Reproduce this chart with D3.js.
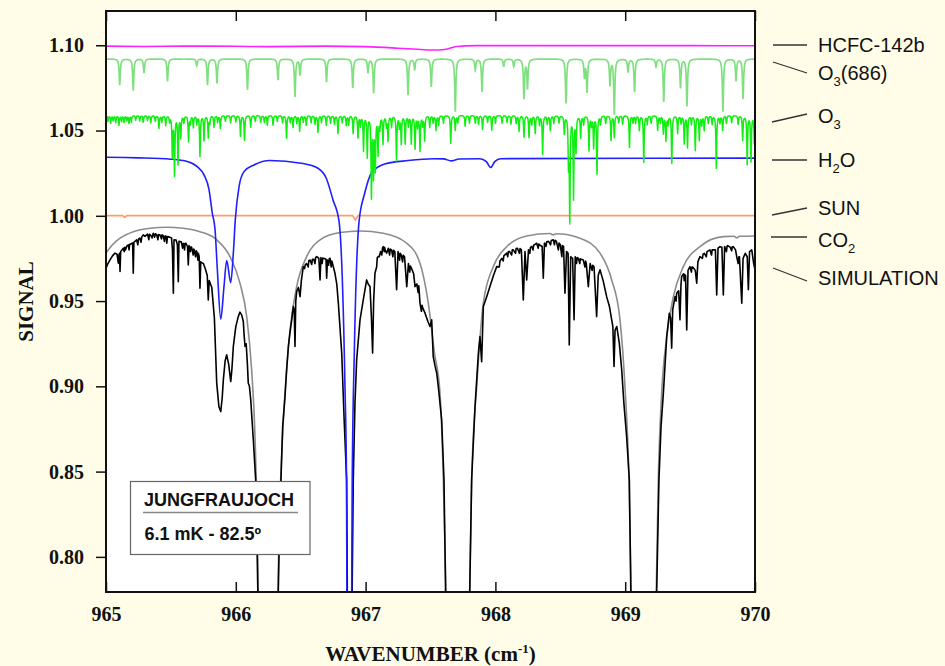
<!DOCTYPE html>
<html>
<head>
<meta charset="utf-8">
<script src="https://cdn.jsdelivr.net/npm/d3@7"></script>
<style>
  html, body { margin: 0; padding: 0; background: #FFFDE8; }
  svg { display: block; }
</style>
</head>
<body>
<svg id="chart" width="945" height="666"></svg>
<script>
// ---- axis ticks ----
const xTicks = [965, 966, 967, 968, 969, 970];
const yTicks = [0.80, 0.85, 0.90, 0.95, 1.00, 1.05, 1.10];

// ---- HCFC-142b transmission (wavenumber, signal) ----
const hcfc = [
  [965.000, 1.0995], [965.300, 1.0993], [965.600, 1.0995], [966.000, 1.0994],
  [966.250, 1.0992], [966.700, 1.0995], [967.000, 1.0992], [967.250, 1.0983],
  [967.450, 1.0974], [967.560, 1.0972], [967.630, 1.0978], [967.700, 1.0993],
  [967.850, 1.0998], [968.500, 1.0998], [969.500, 1.0998], [970.000, 1.0997]
];

// ---- O3(686) isotopologue: continuum and line list (centre, tip value) ----
const o3isoBase = 1.0920;
const o3isoLines = [
  [965.106, 1.0767], [965.210, 1.0735], [965.293, 1.0838], [965.474, 1.0788],
  [965.699, 1.0879], [965.782, 1.0767], [965.855, 1.0777], [966.090, 1.0738],
  [966.325, 1.0797], [966.456, 1.0699], [966.495, 1.0826], [966.699, 1.0785],
  [966.901, 1.0750], [967.018, 1.0838], [967.062, 1.0719], [967.327, 1.0709],
  [967.378, 1.0855], [967.506, 1.0757], [967.691, 1.0611], [967.845, 1.0855],
  [967.897, 1.0728], [968.064, 1.0875], [968.141, 1.0875], [968.220, 1.0689],
  [968.247, 1.0750], [968.544, 1.0660], [968.686, 1.0814], [968.706, 1.0728],
  [968.883, 1.0767], [968.916, 1.0597], [969.022, 1.0843], [969.072, 1.0726],
  [969.237, 1.0875], [969.297, 1.0669], [969.426, 1.0750], [969.476, 1.0644],
  [969.753, 1.0611], [969.854, 1.0791], [969.908, 1.0685]
];

// ---- O3 main isotopologue: continuum and line list (centre, tip value) ----
const o3Base = 1.0590;
const o3Lines = [
  [965.036, 1.0545], [965.100, 1.0533], [965.139, 1.0550], [965.177, 1.0545],
  [965.229, 1.0562], [965.287, 1.0550], [965.408, 1.0515], [965.460, 1.0533],
  [965.511, 1.0357], [965.528, 1.0246], [965.555, 1.0310], [965.576, 1.0462],
  [965.636, 1.0439], [965.673, 1.0521], [965.724, 1.0351], [965.755, 1.0445],
  [965.788, 1.0462], [965.832, 1.0521], [965.881, 1.0515], [966.036, 1.0468],
  [966.067, 1.0445], [966.115, 1.0521], [966.192, 1.0550], [966.243, 1.0533],
  [966.287, 1.0533], [966.391, 1.0457], [966.441, 1.0521], [966.492, 1.0498],
  [966.543, 1.0533], [966.633, 1.0492], [966.697, 1.0533], [966.787, 1.0486],
  [966.851, 1.0533], [966.904, 1.0486], [966.941, 1.0462], [966.984, 1.0386],
  [967.013, 1.0351], [967.045, 1.0122], [967.061, 1.0251], [967.075, 1.0287],
  [967.096, 1.0369], [967.134, 1.0427], [967.173, 1.0445], [967.238, 1.0328],
  [967.275, 1.0427], [967.305, 1.0427], [967.352, 1.0427], [967.381, 1.0398],
  [967.419, 1.0386], [967.455, 1.0445], [967.494, 1.0521], [967.542, 1.0504],
  [967.563, 1.0533], [967.656, 1.0427], [967.691, 1.0504], [967.767, 1.0527],
  [967.845, 1.0545], [967.901, 1.0509], [967.972, 1.0504], [968.051, 1.0545],
  [968.182, 1.0498], [968.220, 1.0462], [968.259, 1.0462], [968.307, 1.0486],
  [968.364, 1.0363], [968.423, 1.0504], [968.531, 1.0486], [968.563, 1.0328],
  [968.573, 0.9991], [968.602, 1.0111], [968.621, 1.0386], [968.657, 1.0462],
  [968.721, 1.0386], [968.757, 1.0404], [968.783, 1.0251], [968.891, 1.0445],
  [968.916, 1.0462], [969.033, 1.0404], [969.109, 1.0504], [969.143, 1.0316],
  [969.250, 1.0504], [969.294, 1.0486], [969.314, 1.0445], [969.359, 1.0310],
  [969.404, 1.0486], [969.455, 1.0427], [969.480, 1.0404], [969.540, 1.0386],
  [969.571, 1.0445], [969.609, 1.0504], [969.702, 1.0281], [969.751, 1.0504],
  [969.905, 1.0445], [969.940, 1.0304], [969.969, 1.0369], [969.995, 1.0427],
  // weak lines along the continuum
  [965.015, 1.0555], [965.055, 1.0560], [965.075, 1.0548], [965.120, 1.0555],
  [965.160, 1.0560], [965.195, 1.0552], [965.260, 1.0558], [965.320, 1.0560],
  [965.345, 1.0548], [965.380, 1.0556], [965.430, 1.0552], [965.490, 1.0555],
  [965.600, 1.0550], [965.650, 1.0545], [965.700, 1.0540], [965.800, 1.0548],
  [965.860, 1.0550], [965.920, 1.0556], [965.960, 1.0548], [966.000, 1.0552],
  [966.150, 1.0555], [966.220, 1.0550], [966.320, 1.0555], [966.360, 1.0548],
  [966.420, 1.0550], [966.470, 1.0545], [966.520, 1.0552], [966.580, 1.0548],
  [966.610, 1.0540], [966.660, 1.0550], [966.730, 1.0545], [966.760, 1.0540],
  [966.820, 1.0548], [966.870, 1.0535], [966.960, 1.0530], [967.110, 1.0520],
  [967.160, 1.0530], [967.200, 1.0525], [967.260, 1.0525], [967.330, 1.0530],
  [967.400, 1.0525], [967.440, 1.0535], [967.520, 1.0548], [967.600, 1.0545],
  [967.710, 1.0548], [967.800, 1.0545], [967.870, 1.0540], [967.940, 1.0550],
  [968.000, 1.0545], [968.090, 1.0548], [968.120, 1.0540], [968.160, 1.0545],
  [968.280, 1.0538], [968.340, 1.0535], [968.400, 1.0540], [968.450, 1.0545],
  [968.490, 1.0548], [968.680, 1.0540], [968.740, 1.0535], [968.810, 1.0540],
  [968.850, 1.0545], [968.950, 1.0548], [968.980, 1.0540], [969.060, 1.0548],
  [969.080, 1.0545], [969.170, 1.0540], [969.200, 1.0545], [969.270, 1.0548],
  [969.330, 1.0540], [969.430, 1.0545], [969.510, 1.0540], [969.590, 1.0535],
  [969.640, 1.0545], [969.670, 1.0540], [969.730, 1.0548], [969.780, 1.0545],
  [969.820, 1.0548], [969.870, 1.0540], [969.970, 1.0540]
];

// ---- H2O transmission ----
const h2o = [
  [965.000, 1.0343], [965.250, 1.0340], [965.500, 1.0332], [965.626, 1.0318],
  [965.703, 1.0288], [965.755, 1.0240], [965.794, 1.0152], [965.819, 1.0015],
  [965.840, 0.9920], [965.858, 0.9683], [965.884, 0.9394], [965.909, 0.9585],
  [965.930, 0.9737], [965.961, 0.9608], [965.981, 0.9781], [965.996, 0.9976],
  [966.025, 1.0171], [966.063, 1.0259], [966.140, 1.0298], [966.263, 1.0324],
  [966.505, 1.0308], [966.633, 1.0279], [966.697, 1.0220], [966.749, 1.0093],
  [966.795, 0.9970], [966.841, 0.8999], [966.853, 0.8450], [966.856, 0.7800],
  [966.860, 0.7000], [966.889, 0.7000], [966.893, 0.7800], [966.897, 0.8450],
  [966.913, 0.9195], [966.950, 0.9970], [966.993, 1.0132], [967.044, 1.0250],
  [967.147, 1.0304], [967.327, 1.0324], [967.527, 1.0335], [967.600, 1.0334],
  [967.660, 1.0322], [967.720, 1.0333], [967.880, 1.0335], [967.930, 1.0318],
  [967.964, 1.0283], [967.995, 1.0318], [968.040, 1.0335], [970.000, 1.0338]
];

// ---- solar transmission ----
const sun = [
  [965.000, 1.0001], [965.128, 1.0001], [965.144, 0.9991], [965.160, 1.0001],
  [966.900, 1.0001], [966.921, 0.9976], [966.942, 1.0001], [970.000, 1.0001]
];

// ---- CO2 transmission ----
const co2 = [
  [965.000, 0.9781], [965.050, 0.9830], [965.108, 0.9869], [965.210, 0.9907],
  [965.339, 0.9927], [965.468, 0.9933], [965.596, 0.9927], [965.724, 0.9907],
  [965.853, 0.9859], [965.955, 0.9761], [966.032, 0.9605], [966.084, 0.9409],
  [966.122, 0.9097], [966.148, 0.8706], [966.165, 0.8200], [966.175, 0.7700],
  [966.250, 0.6000], [966.322, 0.7700], [966.335, 0.8200], [966.354, 0.8608],
  [966.379, 0.8960], [966.418, 0.9331], [966.469, 0.9585], [966.546, 0.9761],
  [966.649, 0.9859], [966.803, 0.9902], [966.957, 0.9911], [967.136, 0.9898],
  [967.317, 0.9839], [967.419, 0.9722], [967.483, 0.9488], [967.530, 0.9200],
  [967.573, 0.8962], [967.599, 0.8452], [967.622, 0.7700], [967.710, 0.6000],
  [967.800, 0.7700], [967.817, 0.8452], [967.856, 0.8999], [967.907, 0.9488],
  [967.984, 0.9702], [968.087, 0.9819], [968.241, 0.9882], [968.420, 0.9896],
  [968.446, 0.9888], [968.470, 0.9895], [968.652, 0.9869], [968.806, 0.9781],
  [968.896, 0.9624], [968.960, 0.9390], [968.998, 0.8999], [969.029, 0.8452],
  [969.048, 0.7700], [969.140, 0.6000], [969.237, 0.7700], [969.255, 0.8452],
  [969.281, 0.8960], [969.320, 0.9292], [969.371, 0.9526], [969.448, 0.9702],
  [969.576, 0.9819], [969.756, 0.9878], [969.840, 0.9880], [969.859, 0.9870],
  [969.880, 0.9880], [970.000, 0.9882]
];

// ---- simulated spectrum (main profile, then fine structure per region) ----
const simulation = [
  [965.000, 0.9693], [965.015, 0.9720], [965.031, 0.9742], [965.050, 0.9765],
  [965.069, 0.9781], [965.085, 0.9775], [965.095, 0.9722], [965.100, 0.9770],
  [965.104, 0.9780], [965.108, 0.9673], [965.113, 0.9790], [965.133, 0.9810],
  [965.150, 0.9800], [965.160, 0.9822], [965.172, 0.9829], [965.190, 0.9835],
  [965.205, 0.9840], [965.210, 0.9663], [965.215, 0.9845], [965.236, 0.9859],
  [965.260, 0.9870], [965.287, 0.9888], [965.300, 0.9880], [965.320, 0.9893],
  [965.345, 0.9885], [965.364, 0.9898], [965.390, 0.9890], [965.416, 0.9888],
  [965.440, 0.9885], [965.462, 0.9880], [965.468, 0.9839], [965.474, 0.9878],
  [965.490, 0.9875], [965.505, 0.9870], [965.512, 0.9800], [965.519, 0.9546],
  [965.524, 0.9860], [965.540, 0.9858], [965.550, 0.9830], [965.557, 0.9614],
  [965.562, 0.9850], [965.580, 0.9848], [965.600, 0.9835], [965.615, 0.9840],
  [965.628, 0.9820], [965.634, 0.9712], [965.640, 0.9825], [965.660, 0.9815],
  [965.680, 0.9800], [965.700, 0.9790], [965.718, 0.9760], [965.724, 0.9576],
  [965.730, 0.9730], [965.750, 0.9720], [965.765, 0.9690], [965.780, 0.9650],
  [965.788, 0.9507], [965.795, 0.9620], [965.815, 0.9580], [965.835, 0.9400],
  [965.853, 0.9019], [965.870, 0.8880], [965.884, 0.8852], [965.895, 0.8930],
  [965.904, 0.9038], [965.918, 0.9150], [965.930, 0.9185], [965.945, 0.9130],
  [965.961, 0.9028], [965.970, 0.9100], [965.981, 0.9234], [966.000, 0.9350],
  [966.019, 0.9409], [966.032, 0.9435], [966.045, 0.9419], [966.058, 0.9380],
  [966.064, 0.9300], [966.071, 0.9234], [966.080, 0.9250], [966.089, 0.9136],
  [966.096, 0.9019], [966.105, 0.9000], [966.115, 0.8921], [966.135, 0.8686],
  [966.153, 0.8452], [966.165, 0.8000], [966.172, 0.7700], [966.250, 0.5000],
  [966.325, 0.7700], [966.335, 0.8100], [966.348, 0.8452], [966.361, 0.8764],
  [966.379, 0.8940], [966.392, 0.9100], [966.405, 0.9234], [966.418, 0.9320],
  [966.431, 0.9390], [966.443, 0.9468], [966.450, 0.9450], [966.456, 0.9234],
  [966.462, 0.9500], [966.469, 0.9556], [966.482, 0.9580], [966.495, 0.9526],
  [966.505, 0.9620], [966.520, 0.9702], [966.545, 0.9720], [966.572, 0.9741],
  [966.600, 0.9745], [966.623, 0.9761], [966.640, 0.9750], [966.649, 0.9624],
  [966.656, 0.9755], [966.680, 0.9750], [966.695, 0.9745], [966.700, 0.9634],
  [966.706, 0.9740], [966.726, 0.9751], [966.745, 0.9720], [966.764, 0.9663],
  [966.778, 0.9600], [966.790, 0.9488], [966.816, 0.9195], [966.835, 0.8800],
  [966.854, 0.8452], [966.860, 0.7700], [966.875, 0.5000], [966.895, 0.7700],
  [966.905, 0.8452], [966.918, 0.8900], [966.931, 0.9155], [966.957, 0.9390],
  [966.982, 0.9507], [967.008, 0.9624], [967.020, 0.9600], [967.034, 0.9585],
  [967.045, 0.9400], [967.054, 0.9195], [967.062, 0.9500], [967.072, 0.9663],
  [967.098, 0.9761], [967.115, 0.9790], [967.136, 0.9819], [967.150, 0.9800],
  [967.162, 0.9781], [967.175, 0.9810], [967.200, 0.9800], [967.225, 0.9790],
  [967.239, 0.9566], [967.250, 0.9790], [967.275, 0.9770], [967.300, 0.9760],
  [967.317, 0.9585], [967.330, 0.9720], [967.355, 0.9690], [967.370, 0.9660],
  [967.381, 0.9585], [967.395, 0.9600], [967.419, 0.9488], [967.440, 0.9460],
  [967.458, 0.9429], [967.480, 0.9380], [967.496, 0.9351], [967.509, 0.9390],
  [967.521, 0.9175], [967.535, 0.9120], [967.548, 0.9077], [967.560, 0.8999],
  [967.586, 0.8804], [967.604, 0.8452], [967.618, 0.7700], [967.710, 0.5000],
  [967.800, 0.7700], [967.817, 0.8452], [967.843, 0.8882], [967.869, 0.9195],
  [967.881, 0.9292], [967.894, 0.9145], [967.907, 0.9468], [967.933, 0.9526],
  [967.958, 0.9585], [967.985, 0.9650], [968.010, 0.9702], [968.050, 0.9750],
  [968.087, 0.9781], [968.110, 0.9790], [968.138, 0.9800], [968.170, 0.9810],
  [968.200, 0.9800], [968.215, 0.9507], [968.228, 0.9790], [968.241, 0.9624],
  [968.255, 0.9800], [968.280, 0.9820], [968.300, 0.9830], [968.318, 0.9839],
  [968.340, 0.9830], [968.360, 0.9820], [968.369, 0.9634], [968.378, 0.9840],
  [968.410, 0.9850], [968.446, 0.9859], [968.470, 0.9850], [968.500, 0.9830],
  [968.525, 0.9820], [968.536, 0.9546], [968.548, 0.9790], [968.560, 0.9780],
  [968.569, 0.9243], [968.580, 0.9760], [968.595, 0.9750], [968.606, 0.9390],
  [968.615, 0.9760], [968.640, 0.9750], [968.660, 0.9745], [968.677, 0.9741],
  [968.700, 0.9720], [968.716, 0.9585], [968.730, 0.9720], [968.760, 0.9700],
  [968.780, 0.9409], [968.792, 0.9650], [968.806, 0.9683], [968.830, 0.9620],
  [968.857, 0.9526], [968.878, 0.9470], [968.896, 0.9390], [968.905, 0.9350],
  [968.914, 0.9116], [968.922, 0.9330], [968.935, 0.9351], [968.955, 0.9250],
  [968.973, 0.9097], [968.990, 0.8900], [969.011, 0.8706], [969.032, 0.8452],
  [969.045, 0.7700], [969.140, 0.5000], [969.240, 0.7700], [969.260, 0.8452],
  [969.276, 0.8764], [969.294, 0.8960], [969.320, 0.9292], [969.340, 0.9429],
  [969.350, 0.9400], [969.358, 0.9224], [969.366, 0.9450], [969.384, 0.9526],
  [969.400, 0.9550], [969.412, 0.9560], [969.422, 0.9390], [969.430, 0.9600],
  [969.435, 0.9644], [969.450, 0.9660], [969.465, 0.9650], [969.474, 0.9331],
  [969.484, 0.9680], [969.499, 0.9702], [969.520, 0.9700], [969.540, 0.9680],
  [969.551, 0.9605], [969.560, 0.9730], [969.576, 0.9761], [969.610, 0.9780],
  [969.653, 0.9800], [969.680, 0.9800], [969.695, 0.9800], [969.705, 0.9536],
  [969.715, 0.9810], [969.730, 0.9819], [969.745, 0.9815], [969.756, 0.9536],
  [969.766, 0.9820], [969.790, 0.9825], [969.810, 0.9815], [969.833, 0.9819],
  [969.850, 0.9800], [969.859, 0.9761], [969.880, 0.9760], [969.898, 0.9488],
  [969.908, 0.9750], [969.925, 0.9780], [969.940, 0.9760], [969.949, 0.9566],
  [969.958, 0.9790], [969.975, 0.9800], [969.990, 0.9720], [970.000, 0.9683],
  // fine structure: 965.1 - 965.7
  [965.140, 0.9790], [965.145, 0.9815], [965.178, 0.9800], [965.182, 0.9832],
  [965.245, 0.9830], [965.250, 0.9862], [965.270, 0.9845], [965.275, 0.9875],
  [965.330, 0.9860], [965.335, 0.9892], [965.355, 0.9870], [965.375, 0.9875],
  [965.380, 0.9895], [965.400, 0.9860], [965.405, 0.9890], [965.428, 0.9865],
  [965.432, 0.9888], [965.450, 0.9850], [965.455, 0.9882], [965.590, 0.9810],
  [965.595, 0.9838], [965.605, 0.9800], [965.610, 0.9838], [965.650, 0.9790],
  [965.655, 0.9818], [965.672, 0.9770], [965.676, 0.9805], [965.690, 0.9760],
  [965.695, 0.9795], [965.708, 0.9740], [965.712, 0.9780],
  // fine structure: 966.5 - 967.45
  [966.530, 0.9690], [966.535, 0.9712], [966.558, 0.9700], [966.562, 0.9735],
  [966.585, 0.9715], [966.590, 0.9745], [966.610, 0.9720], [966.615, 0.9755],
  [966.665, 0.9720], [966.670, 0.9752], [966.715, 0.9710], [966.720, 0.9748],
  [966.735, 0.9700], [966.740, 0.9735], [967.085, 0.9700], [967.090, 0.9755],
  [967.105, 0.9760], [967.125, 0.9770], [967.130, 0.9810], [967.143, 0.9790],
  [967.147, 0.9815], [967.185, 0.9770], [967.190, 0.9805], [967.210, 0.9760],
  [967.215, 0.9798], [967.262, 0.9740], [967.266, 0.9780], [967.285, 0.9730],
  [967.290, 0.9768], [967.340, 0.9670], [967.345, 0.9705], [967.405, 0.9550],
  [967.410, 0.9590], [967.430, 0.9440], [967.435, 0.9475],
  // fine structure: 968.0 - 968.75
  [968.030, 0.9700], [968.035, 0.9735], [968.060, 0.9735], [968.065, 0.9765],
  [968.095, 0.9760], [968.100, 0.9790], [968.125, 0.9770], [968.130, 0.9800],
  [968.155, 0.9780], [968.160, 0.9808], [968.185, 0.9780], [968.190, 0.9808],
  [968.265, 0.9780], [968.270, 0.9815], [968.290, 0.9800], [968.295, 0.9828],
  [968.330, 0.9810], [968.335, 0.9835], [968.390, 0.9820], [968.395, 0.9848],
  [968.425, 0.9830], [968.430, 0.9855], [968.455, 0.9830], [968.460, 0.9856],
  [968.485, 0.9800], [968.490, 0.9840], [968.512, 0.9760], [968.516, 0.9825],
  [968.625, 0.9720], [968.630, 0.9755], [968.650, 0.9720], [968.655, 0.9748],
  [968.690, 0.9700], [968.695, 0.9735], [968.745, 0.9680], [968.750, 0.9710],
  // fine structure: 969.35 - 969.9
  [969.392, 0.9500], [969.396, 0.9540], [969.455, 0.9620], [969.458, 0.9655],
  [969.510, 0.9670], [969.514, 0.9700], [969.595, 0.9750], [969.600, 0.9775],
  [969.625, 0.9760], [969.630, 0.9790], [969.665, 0.9770], [969.670, 0.9800],
  [969.780, 0.9790], [969.785, 0.9822], [969.820, 0.9795], [969.825, 0.9818],
  [969.870, 0.9720], [969.875, 0.9758]
];

// ---- legend entries (label parts: [text, isSubscript]) ----
const legendLabels = [
  [["HCFC-142b", false]],
  [["O", false], ["3", true], ["(686)", false]],
  [["O", false], ["3", true]],
  [["H", false], ["2", true], ["O", false]],
  [["SUN", false]],
  [["CO", false], ["2", true]],
  [["SIMULATION", false]]
];
const stationName = "JUNGFRAUJOCH";
const stationInfo = "6.1 mK - 82.5º";

// ================= drawing =================
const W = 945, H = 666;
const plot = { left: 106, right: 755, top: 11, bottom: 592 };

const svg = d3.select("#chart");
svg.append("rect").attr("width", W).attr("height", H).attr("fill", "#FFFDE8");
svg.append("rect")
  .attr("x", plot.left).attr("y", plot.top)
  .attr("width", plot.right - plot.left).attr("height", plot.bottom - plot.top)
  .attr("fill", "#ffffff");

const x = d3.scaleLinear().domain([965, 970]).range([plot.left, plot.right]);
const y = d3.scaleLinear().domain([0.7794, 1.1201]).range([plot.bottom, plot.top]);

svg.append("clipPath").attr("id", "plotClip")
  .append("rect")
  .attr("x", plot.left).attr("y", plot.top)
  .attr("width", plot.right - plot.left).attr("height", plot.bottom - plot.top);

const g = svg.append("g").attr("clip-path", "url(#plotClip)");

const smooth = d3.line().x(d => x(d[0])).y(d => y(d[1])).curve(d3.curveMonotoneX);
const straight = d3.line().x(d => x(d[0])).y(d => y(d[1]));
const byWavenumber = pts => pts.slice().sort((a, b) => a[0] - b[0]);

// line spectrum: narrow Lorentzian dips hanging from a flat continuum
function lineSpectrum(base, lines, hw) {
  const grid = d3.range(965, 970.0001, 0.002).concat(lines.map(l => l[0]));
  grid.sort((a, b) => a - b);
  return grid.map(v => [v, base - d3.sum(lines, ([c, t]) => (base - t) / (1 + ((v - c) / hw) ** 2))]);
}

g.append("path").attr("d", smooth(co2))
  .attr("fill", "none").attr("stroke", "#8c8c8c").attr("stroke-width", 1.6);
g.append("path").attr("d", straight(byWavenumber(simulation)))
  .attr("fill", "none").attr("stroke", "#000000").attr("stroke-width", 1.6)
  .attr("stroke-linejoin", "round");
g.append("path").attr("d", straight(sun))
  .attr("fill", "none").attr("stroke", "#FF9A6A").attr("stroke-width", 1.6);
g.append("path").attr("d", smooth(h2o))
  .attr("fill", "none").attr("stroke", "#1f1fff").attr("stroke-width", 1.6);
g.append("path").attr("d", straight(lineSpectrum(o3Base, o3Lines, 0.0035)))
  .attr("fill", "none").attr("stroke", "#11ee11").attr("stroke-width", 1.5)
  .attr("stroke-linejoin", "round");
g.append("path").attr("d", straight(lineSpectrum(o3isoBase, o3isoLines, 0.005)))
  .attr("fill", "none").attr("stroke", "#80e080").attr("stroke-width", 1.7);
g.append("path").attr("d", smooth(hcfc))
  .attr("fill", "none").attr("stroke", "#ff22ff").attr("stroke-width", 1.6);

// axes
const serif = "'Liberation Serif', 'Times New Roman', serif";
const axisBottom = svg.append("g").attr("transform", `translate(0,${plot.bottom})`)
  .call(d3.axisBottom(x).tickValues(xTicks).tickFormat(d3.format("d"))
    .tickSizeInner(-10).tickSizeOuter(0).tickPadding(15));
const axisTop = svg.append("g").attr("transform", `translate(0,${plot.top})`)
  .call(d3.axisTop(x).tickValues(xTicks).tickFormat("")
    .tickSizeInner(-10).tickSizeOuter(0));
const axisLeft = svg.append("g").attr("transform", `translate(${plot.left},0)`)
  .call(d3.axisLeft(y).tickValues(yTicks).tickFormat(d3.format(".2f"))
    .tickSizeInner(10).tickSizeOuter(0).tickPadding(12));
[axisBottom, axisTop, axisLeft].forEach(a => {
  a.select(".domain").remove();
  a.selectAll(".tick line").attr("stroke", "#111").attr("stroke-width", 1.5);
  a.selectAll(".tick text").attr("fill", "#111")
    .style("font-family", serif).style("font-weight", "bold").style("font-size", "20px");
});

svg.append("rect")
  .attr("x", plot.left).attr("y", plot.top)
  .attr("width", plot.right - plot.left).attr("height", plot.bottom - plot.top)
  .attr("fill", "none").attr("stroke", "#111").attr("stroke-width", 2);

// axis titles
svg.append("text")
  .attr("transform", `translate(33,${(plot.top + plot.bottom) / 2}) rotate(-90)`)
  .attr("text-anchor", "middle")
  .style("font-family", serif).style("font-weight", "bold").style("font-size", "21px")
  .attr("fill", "#111").text("SIGNAL");

const xt = svg.append("text")
  .attr("x", (plot.left + plot.right) / 2).attr("y", 661)
  .attr("text-anchor", "middle")
  .style("font-family", serif).style("font-weight", "bold").style("font-size", "21px")
  .attr("fill", "#111");
xt.append("tspan").text("WAVENUMBER (cm");
xt.append("tspan").attr("dy", -8).style("font-size", "13px").text("-1");
xt.append("tspan").attr("dy", 8).text(")");

// legend with leader lines
const sans = "'Liberation Sans', Arial, sans-serif";
const leaders = [
  [[773, 45], [807, 45]], [[773, 62], [807, 73]], [[772, 122], [807, 114]],
  [[772, 160], [807, 160]], [[772, 215], [807, 208]], [[771, 237], [807, 237]],
  [[773, 268], [807, 281]]
];
const labelBaselines = [52, 80, 123, 167, 215, 247, 285];
legendLabels.forEach((parts, i) => {
  svg.append("line")
    .attr("x1", leaders[i][0][0]).attr("y1", leaders[i][0][1])
    .attr("x2", leaders[i][1][0]).attr("y2", leaders[i][1][1])
    .attr("stroke", "#333").attr("stroke-width", 1.3);
  const t = svg.append("text").attr("x", 818).attr("y", labelBaselines[i])
    .style("font-family", sans).style("font-size", "20px").attr("fill", "#111");
  let shifted = false;
  parts.forEach(([s, sub]) => {
    const ts = t.append("tspan").text(s);
    if (sub && !shifted) { ts.attr("dy", 6).style("font-size", "13px"); shifted = true; }
    else if (!sub && shifted) { ts.attr("dy", -6); shifted = false; }
  });
});

// station box
const box = svg.append("g");
box.append("rect").attr("x", 130.5).attr("y", 481.5).attr("width", 179.5).attr("height", 73)
  .attr("fill", "#ffffff").attr("stroke", "#666").attr("stroke-width", 1.2);
box.append("text").attr("x", 144).attr("y", 506)
  .style("font-family", sans).style("font-weight", "bold").style("font-size", "18px")
  .attr("fill", "#111").text(stationName);
box.append("line").attr("x1", 143).attr("x2", 298).attr("y1", 512.5).attr("y2", 512.5)
  .attr("stroke", "#888").attr("stroke-width", 1.6);
box.append("text").attr("x", 144.5).attr("y", 540)
  .style("font-family", sans).style("font-weight", "bold").style("font-size", "18px")
  .attr("fill", "#111").text(stationInfo);
</script>
</body>
</html>
